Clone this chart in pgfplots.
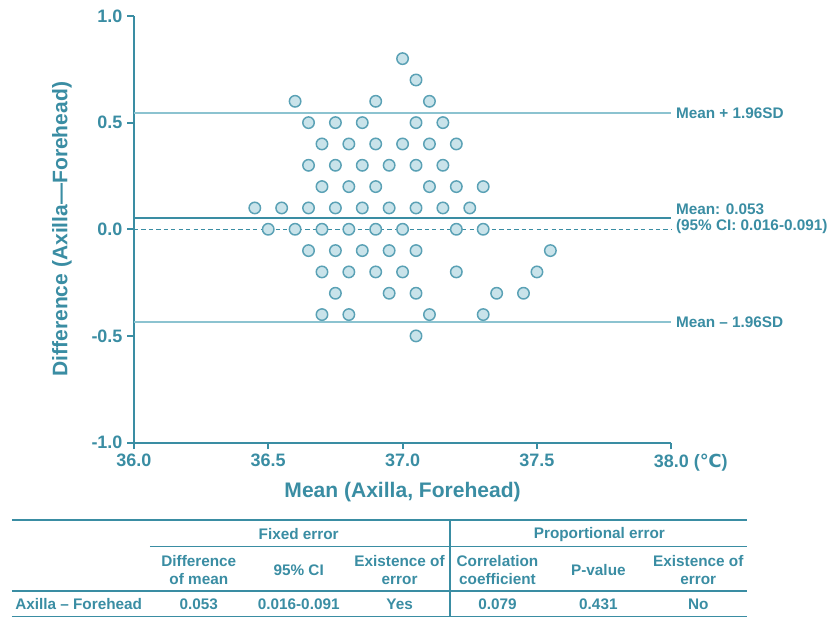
\documentclass[border=0pt]{standalone}
\usepackage{pgfplots}
\pgfplotsset{compat=1.18}
\usepackage{fontspec}
\setmainfont{Liberation Sans}
\newfontfamily\dejavu{DejaVu Sans}

\definecolor{tealtxt}{HTML}{3A8DA3}
\definecolor{teallight}{HTML}{8CC3D0}
\definecolor{markfill}{HTML}{C9E3EA}
\definecolor{markedge}{HTML}{5AA1B5}

% Bland-Altman points: mean (x) vs difference (y)
\pgfplotstableread{
x y
37.00 0.8
37.05 0.7
36.60 0.6
36.90 0.6
37.10 0.6
36.65 0.5
36.75 0.5
36.85 0.5
37.05 0.5
37.15 0.5
36.70 0.4
36.80 0.4
36.90 0.4
37.00 0.4
37.10 0.4
37.20 0.4
36.65 0.3
36.75 0.3
36.85 0.3
36.95 0.3
37.05 0.3
37.15 0.3
36.70 0.2
36.80 0.2
36.90 0.2
37.10 0.2
37.20 0.2
37.30 0.2
36.45 0.1
36.55 0.1
36.65 0.1
36.75 0.1
36.85 0.1
36.95 0.1
37.05 0.1
37.15 0.1
37.25 0.1
36.50 0.0
36.60 0.0
36.70 0.0
36.80 0.0
36.90 0.0
37.00 0.0
37.20 0.0
37.30 0.0
36.65 -0.1
36.75 -0.1
36.85 -0.1
36.95 -0.1
37.05 -0.1
37.55 -0.1
36.70 -0.2
36.80 -0.2
36.90 -0.2
37.00 -0.2
37.20 -0.2
37.50 -0.2
36.75 -0.3
36.95 -0.3
37.05 -0.3
37.35 -0.3
37.45 -0.3
36.70 -0.4
36.80 -0.4
37.10 -0.4
37.30 -0.4
37.05 -0.5
}\points

\newcommand{\tk}{\fontsize{13.5}{16}\selectfont\bfseries}
\newcommand{\lb}{\fontsize{15.8}{18}\selectfont\bfseries}
\newcommand{\sm}{\fontsize{11.5}{13.5}\selectfont\bfseries}

\begin{document}
\begin{tikzpicture}
\begin{scope}[x=0.75pt,y=-0.75pt]
\path[use as bounding box] (0,0) rectangle (832,618);
\end{scope}

\begin{axis}[
  at={(100.5pt,-332.25pt)}, anchor=south west,
  scale only axis, width=403.5pt, height=320.25pt,
  xmin=36, xmax=38, ymin=-1, ymax=1,
  axis lines=left,
  axis line style={-, line width=1.5pt, tealtxt},
  xtick={36,36.5,37,37.5,38},
  xticklabels={36.0,36.5,37.0,37.5,{38.0\rlap{ ({\dejavu\bfseries ℃})}}},
  ytick={-1,-0.5,0,0.5,1},
  yticklabels={-1.0,-0.5,0.0,0.5,1.0},
  tick align=outside,
  major tick length=5pt,
  tick style={line width=1.5pt, tealtxt},
  ticklabel style={font=\tk, text=tealtxt},
  xlabel={Mean (Axilla, Forehead)},
  ylabel={Difference (Axilla—Forehead)},
  xlabel style={at={(axis description cs:0.5,-0.115)}, anchor=center, font=\lb, text=tealtxt},
  ylabel style={at={(axis description cs:-0.134,0.5)}, anchor=center, font=\lb, text=tealtxt},
  clip=false,
]
% limits of agreement
\addplot[teallight, line width=1.2pt] coordinates {(36,0.544) (38,0.544)};
\addplot[teallight, line width=1.2pt] coordinates {(36,-0.434) (38,-0.434)};
\addplot[tealtxt, line width=1.9pt] coordinates {(36,0.053) (38,0.053)};
% points
\addplot[only marks, mark=*, mark size=4.3pt,
  mark options={fill=markfill, draw=markedge, line width=1.1pt}] table[x=x,y=y] {\points};
% zero line
\addplot[tealtxt, line width=1.1pt, dash pattern=on 3.2pt off 2.4pt] coordinates {(36,0) (38,0)};

\node[anchor=west, font=\sm, text=tealtxt] at (axis cs:38,0.544) {Mean + 1.96SD};
\node[anchor=west, font=\sm, text=tealtxt] at (axis cs:38,0.095) {Mean: 0.053};
\node[anchor=west, font=\sm, text=tealtxt] at (axis cs:38,0.013) {(95\% CI: 0.016-0.091)};
\node[anchor=west, font=\sm, text=tealtxt] at (axis cs:38,-0.434) {Mean – 1.96SD};
\end{axis}

\begin{scope}[x=0.75pt,y=-0.75pt]
\draw[tealtxt, line width=1.5pt] (12,521) -- (748,521);
\draw[tealtxt, line width=1.2pt] (150,547) -- (748,547);
\draw[tealtxt, line width=1.5pt] (12,592) -- (748,592);
\draw[tealtxt, line width=1.2pt] (12,617) -- (748,617);
\draw[tealtxt, line width=1.5pt] (450,521) -- (450,618);
\begin{scope}[every node/.style={font=\sm, text=tealtxt, align=center, inner sep=0pt}]
\node at (299,535) {Fixed error};
\node at (600,535) {Proportional error};
\node at (199,571) {Difference\\of mean};
\node at (299,571) {95\% CI};
\node at (400,571) {Existence of\\error};
\node at (498,571) {Correlation\\coefficient};
\node at (599,571) {P-value};
\node at (699,571) {Existence of\\error};
\node[anchor=west] at (15,605) {Axilla – Forehead};
\node at (199,605) {0.053};
\node at (299,605) {0.016-0.091};
\node at (400,605) {Yes};
\node at (498,605) {0.079};
\node at (599,605) {0.431};
\node at (699,605) {No};
\end{scope}
\end{scope}
\end{tikzpicture}
\end{document}
